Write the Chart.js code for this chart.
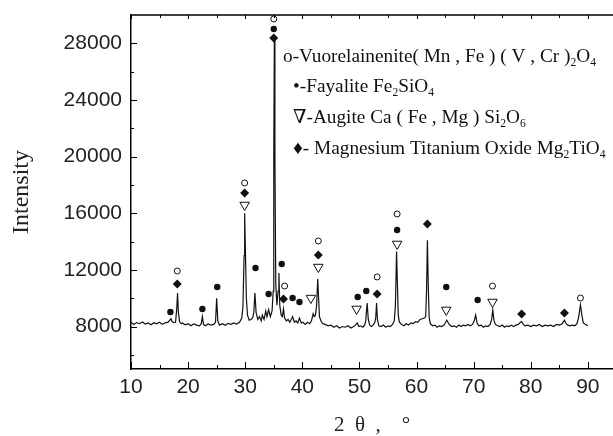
<!DOCTYPE html>
<html>
<head>
<meta charset="utf-8">
<script src="https://cdn.jsdelivr.net/npm/chart.js@4.4.1/dist/chart.umd.min.js"></script>
<style>
  html, body { margin: 0; padding: 0; background: #fff; }
  canvas { display: block; }
</style>
</head>
<body>
<canvas id="xrdChart" width="613" height="436"></canvas>
<script>
// XRD pattern (2theta in degrees, intensity in counts)
const twoTheta = [
  10.0, 10.5, 11.0, 11.5, 12.0, 12.5, 13.0, 13.5, 14.0, 14.5,
  15.0, 15.5, 16.0, 16.5, 16.8, 17.0, 17.2, 17.5, 17.8, 18.0,
  18.15, 18.3, 18.5, 18.8, 19.0, 19.5, 20.0, 20.5, 21.0, 21.5,
  22.0, 22.3, 22.5, 22.7, 23.0, 23.5, 24.0, 24.5, 24.8, 25.0,
  25.2, 25.5, 26.0, 26.5, 27.0, 27.5, 28.0, 28.5, 29.0, 29.4,
  29.6, 29.8, 29.9, 30.0, 30.2, 30.4, 30.7, 31.0, 31.3, 31.5,
  31.7, 31.9, 32.2, 32.5, 32.8, 33.0, 33.3, 33.6, 33.8, 34.1,
  34.4, 34.7, 34.9, 35.0, 35.1, 35.2, 35.35, 35.55, 35.75, 35.9,
  36.05, 36.3, 36.5, 36.7, 36.9, 37.2, 37.5, 37.8, 38.0, 38.3,
  38.6, 38.9, 39.2, 39.5, 39.8, 40.1, 40.5, 40.9, 41.3, 41.6,
  41.9, 42.1, 42.3, 42.5, 42.7, 42.85, 43.0, 43.3, 43.6, 44.0,
  44.5, 45.0, 45.5, 46.0, 46.5, 47.0, 47.5, 48.0, 48.5, 49.0,
  49.3, 49.6, 49.9, 50.2, 50.6, 50.9, 51.1, 51.35, 51.55, 51.8,
  52.1, 52.4, 52.7, 52.85, 53.0, 53.15, 53.4, 53.8, 54.2, 54.6,
  55.0, 55.4, 55.8, 56.1, 56.3, 56.5, 56.65, 56.8, 57.0, 57.4,
  57.8, 58.2, 58.6, 59.0, 59.4, 59.8, 60.2, 60.6, 61.0, 61.4,
  61.6, 61.75, 61.9, 62.05, 62.2, 62.4, 62.8, 63.2, 63.6, 64.0,
  64.4, 64.8, 65.1, 65.3, 65.5, 65.8, 66.2, 66.6, 67.0, 67.4,
  67.8, 68.2, 68.6, 69.0, 69.4, 69.8, 70.1, 70.35, 70.6, 70.9,
  71.3, 71.7, 72.1, 72.5, 72.9, 73.15, 73.35, 73.55, 73.8, 74.2,
  74.6, 75.0, 75.4, 75.8, 76.2, 76.6, 77.0, 77.4, 77.8, 78.2,
  78.4, 78.7, 79.0, 79.5, 80.0, 80.5, 81.0, 81.5, 82.0, 82.5,
  83.0, 83.5, 84.0, 84.5, 85.0, 85.5, 85.9, 86.2, 86.5, 86.9,
  87.3, 87.7, 88.1, 88.4, 88.7, 88.95, 89.2, 89.6, 90.0
];
const intensity = [
  8300, 8150, 8280, 8200, 8320, 8180, 8250, 8120, 8270, 8190,
  8300, 8150, 8260, 8310, 8450, 8550, 8350, 8280, 8300, 9200,
  10370, 9000, 8350, 8200, 8250, 8120, 8200, 8050, 8180, 8100,
  8050, 8200, 8700, 8150, 8050, 8180, 8100, 8150, 8300, 10000,
  8400, 8100, 8200, 8080, 8220, 8150, 8250, 8180, 8300, 8600,
  9400, 13000, 16000, 14000, 10000, 8800, 8450, 8500, 8600, 9000,
  10370, 9000, 8500, 8700, 8400, 8800, 8500, 9100, 8700, 9200,
  8700, 9100, 10500, 20000, 28300, 20000, 11000, 9500, 10500, 11780,
  9500, 8800, 8700, 9240, 8600, 8400, 8500, 8300, 8450, 8700,
  8300, 8400, 8250, 8600, 8250, 8300, 8150, 8300, 8200, 8400,
  8900, 8700, 8800, 9500, 11350, 10000, 8700, 8350, 8200, 8150,
  8050, 8100, 7950, 8050, 7900, 8000, 7950, 8050, 7900, 8000,
  8100, 8250, 8000, 8050, 7950, 8100, 8400, 9660, 8500, 8100,
  8000, 8100, 8300, 8600, 9660, 8500, 8050, 8000, 8100, 7950,
  8050, 8000, 8150, 8400, 9500, 13300, 11000, 8800, 8300, 8150,
  8050, 8200, 8100, 8250, 8200, 8350, 8300, 8500, 8550, 8600,
  8700, 10500, 14100, 11000, 8700, 8200, 8050, 8100, 7950, 8050,
  8000, 8100, 8300, 8450, 8300, 8100, 8000, 8050, 7950, 8100,
  8000, 8100, 8050, 8150, 8050, 8150, 8400, 8800, 8250, 8050,
  8100, 7950, 8050, 8000, 8150, 8500, 9170, 8450, 8150, 8050,
  8000, 8100, 7950, 8050, 8000, 8100, 8000, 8100, 8150, 8300,
  8350, 8150, 8050, 8100, 8000, 8100, 8050, 8150, 8000, 8100,
  8050, 8100, 8000, 8150, 8100, 8200, 8450, 8200, 8100, 8050,
  8100, 8050, 8200, 8700, 9520, 8800, 8250, 8150, 8050
];

// phase markers above the peaks: [2theta, intensity]
const vuorelainenite = [[18.1, 11920], [29.9, 18140], [35.0, 29720], [36.9, 10860], [42.8, 14040],
  [53.1, 11500], [56.6, 15950], [73.3, 10860], [88.7, 10010]];
const fayalite = [[16.9, 9030], [22.5, 9240], [25.1, 10790], [31.8, 12130], [34.1, 10300], [35.0, 29010],
  [36.4, 12420], [38.3, 10010], [39.5, 9730], [49.7, 10080], [51.2, 10510], [56.6, 14820],
  [65.2, 10790], [70.7, 9870]];
const augite = [[29.9, 16580], [41.5, 10010], [42.8, 12200], [49.5, 9240], [56.6, 13830],
  [65.2, 9170], [73.3, 9730]];
const mgTitanate = [[18.1, 11000], [29.9, 17430], [35.0, 28380], [36.7, 9940], [42.8, 13050],
  [53.1, 10300], [61.9, 15240], [78.4, 8880], [85.9, 8950]];

const xTicks = [10, 20, 30, 40, 50, 60, 70, 80, 90];
const yTicks = [8000, 12000, 16000, 20000, 24000, 28000];

// legend text, "_n" means subscript n
const legendLines = [
  'o-Vuorelainenite( Mn , Fe ) ( V , Cr )_2O_4',
  '\u2022-Fayalite Fe_2SiO_4',
  '\u2207-Augite Ca ( Fe , Mg ) Si_2O_6',
  '\u2666- Magnesium Titanium Oxide Mg_2TiO_4'
];

const toPts = arr => arr.map(p => ({ x: p[0], y: p[1] }));

// inward ticks, top border and the phase legend
const framePlugin = {
  id: 'frame',
  afterDraw(chart) {
    const ctx = chart.ctx;
    const { left, right, top, bottom } = chart.chartArea;
    const xs = chart.scales.x, ys = chart.scales.y;
    ctx.save();
    ctx.strokeStyle = '#000';
    ctx.lineWidth = 1.5;
    ctx.beginPath();
    ctx.moveTo(left, top);
    ctx.lineTo(right + 2, top);
    ctx.stroke();
    ctx.lineWidth = 1;
    ctx.beginPath();
    xTicks.forEach(v => {
      const px = Math.round(xs.getPixelForValue(v)) + 0.5;
      ctx.moveTo(px, bottom); ctx.lineTo(px, bottom - 7);
      ctx.moveTo(px, top); ctx.lineTo(px, top + 4);
      const mx = Math.round(xs.getPixelForValue(v + 5)) + 0.5;
      if (mx < right) {
        ctx.moveTo(mx, bottom); ctx.lineTo(mx, bottom - 4);
        ctx.moveTo(mx, top); ctx.lineTo(mx, top + 3);
      }
    });
    yTicks.forEach(v => {
      const py = Math.round(ys.getPixelForValue(v)) + 0.5;
      ctx.moveTo(left, py); ctx.lineTo(left + 6, py);
      const my = Math.round(ys.getPixelForValue(v - 2000)) + 0.5;
      ctx.moveTo(left, my); ctx.lineTo(left + 3, my);
    });
    ctx.stroke();

    // legend
    const size = 19.3;
    const starts = [283, 293, 293, 293];
    const rows = [57, 87, 118, 149];
    ctx.fillStyle = '#111';
    ctx.textBaseline = 'middle';
    legendLines.forEach((line, i) => {
      let x = starts[i];
      const y = rows[i];
      const parts = line.split(/(_\d)/);
      parts.forEach(part => {
        if (!part) return;
        if (part[0] === '_') {
          ctx.font = (size * 0.6) + 'px "Liberation Serif"';
          ctx.fillText(part.slice(1), x, y + 6);
          x += ctx.measureText(part.slice(1)).width;
        } else {
          ctx.font = size + 'px "Liberation Serif", "DejaVu Serif"';
          ctx.fillText(part, x, y);
          x += ctx.measureText(part).width;
        }
      });
    });
    ctx.restore();
  }
};

const ctx = document.getElementById('xrdChart').getContext('2d');
new Chart(ctx, {
  type: 'line',
  data: {
    datasets: [
      {
        data: twoTheta.map((t, i) => ({ x: t, y: intensity[i] })),
        borderColor: '#111',
        borderWidth: 1.2,
        pointRadius: 0,
        tension: 0,
        order: 5
      },
      {
        data: toPts(vuorelainenite), showLine: false,
        pointStyle: 'circle', pointRadius: 3, pointBorderWidth: 1,
        pointBorderColor: '#111', pointBackgroundColor: '#fff', order: 1
      },
      {
        data: toPts(fayalite), showLine: false,
        pointStyle: 'circle', pointRadius: 3.2, pointBorderWidth: 0,
        pointBorderColor: '#111', pointBackgroundColor: '#111', order: 1
      },
      {
        data: toPts(augite), showLine: false,
        pointStyle: 'triangle', pointRotation: 180, pointRadius: 5.5, pointBorderWidth: 1,
        pointBorderColor: '#111', pointBackgroundColor: '#fff', order: 1
      },
      {
        data: toPts(mgTitanate), showLine: false,
        pointStyle: 'rectRot', pointRadius: 4.5, pointBorderWidth: 0,
        pointBorderColor: '#111', pointBackgroundColor: '#111', order: 1
      }
    ]
  },
  options: {
    responsive: false,
    devicePixelRatio: 1,
    animation: false,
    layout: { autoPadding: false, padding: { top: 15, right: 0, left: 0, bottom: 0 } },
    plugins: { legend: { display: false }, tooltip: { enabled: false } },
    scales: {
      x: {
        type: 'linear',
        min: 10,
        max: 94.4,
        grid: { display: false, drawTicks: false },
        border: { display: true, color: '#000', width: 1.5 },
        afterBuildTicks: s => { s.ticks = xTicks.map(v => ({ value: v })); },
        afterFit: s => { s.height = 67; s.paddingLeft = 0; s.paddingRight = 0; },
        ticks: {
          color: '#222',
          padding: 6,
          maxRotation: 0,
          autoSkip: false,
          font: { family: 'Liberation Sans', size: 21 }
        },
        title: {
          display: true,
          text: '2\u2002\u03b8\u2002,\u2003\u00b0',
          color: '#222',
          padding: { top: 0, bottom: 0 },
          font: { family: 'Liberation Serif', size: 21, lineHeight: 1 }
        }
      },
      y: {
        min: 5000,
        max: 30000,
        grid: { display: false, drawTicks: false },
        border: { display: true, color: '#000', width: 1.5 },
        afterBuildTicks: s => { s.ticks = yTicks.map(v => ({ value: v })); },
        afterFit: s => { s.width = 131; s.paddingTop = 0; s.paddingBottom = 0; },
        ticks: {
          color: '#222',
          padding: 9,
          callback: v => String(v),
          font: { family: 'Liberation Sans', size: 21 }
        },
        title: {
          display: true,
          text: 'Intensity',
          color: '#222',
          padding: { top: 10, bottom: 0 },
          font: { family: 'Liberation Serif', size: 24, lineHeight: 1 }
        }
      }
    }
  },
  plugins: [framePlugin]
});
</script>
</body>
</html>
